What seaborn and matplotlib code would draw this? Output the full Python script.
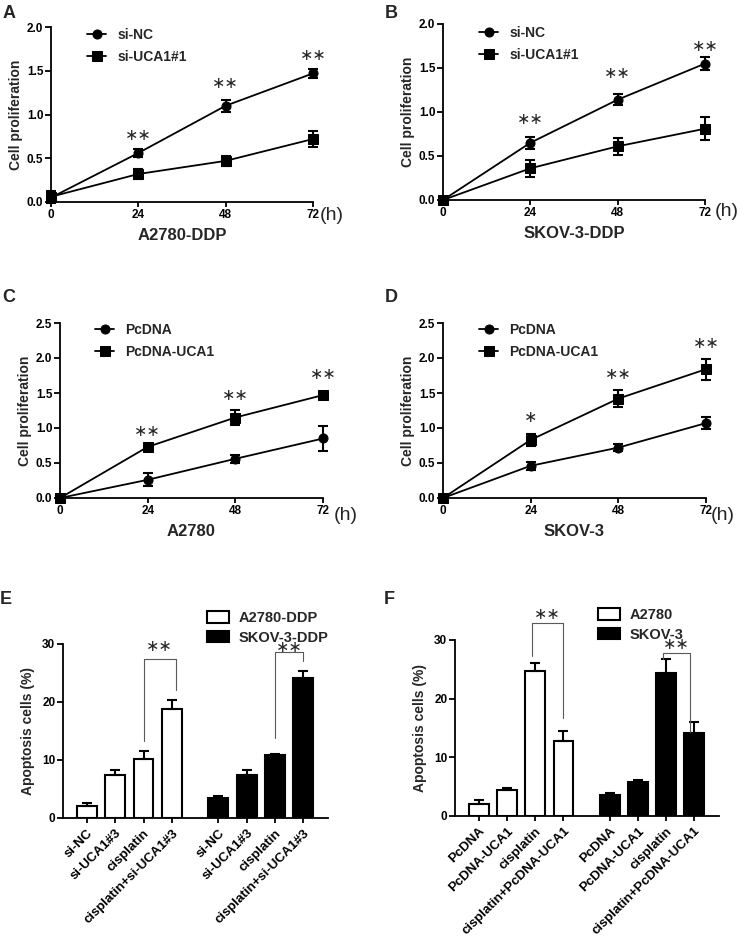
import numpy as np
import pandas as pd
import matplotlib.pyplot as plt
import seaborn as sns

sns.set_style("ticks")
plt.rcParams["font.family"] = ["Liberation Sans", "DejaVu Sans"]
plt.rcParams["font.weight"] = "bold"
plt.rcParams["axes.labelweight"] = "bold"
plt.rcParams["axes.linewidth"] = 1.3
plt.rcParams["xtick.major.width"] = 1.3
plt.rcParams["ytick.major.width"] = 1.3
plt.rcParams["xtick.major.size"] = 3.5
plt.rcParams["ytick.major.size"] = 4
plt.rcParams["xtick.color"] = "black"
plt.rcParams["ytick.color"] = "black"
plt.rcParams["axes.edgecolor"] = "black"

# ---- data: proliferation curves ----
hours = [0, 24, 48, 72]

a_names = ["si-NC", "si-UCA1#1"]
a_nc = [0.05, 0.56, 1.10, 1.47]
a_nc_err = [0.05, 0.05, 0.07, 0.05]
a_si = [0.06, 0.32, 0.47, 0.72]
a_si_err = [0.07, 0.06, 0.06, 0.09]
a_stars = [0.76, 1.35, 1.68]

b_nc = [0.0, 0.65, 1.14, 1.55]
b_nc_err = [0.01, 0.065, 0.06, 0.07]
b_si = [0.0, 0.36, 0.61, 0.81]
b_si_err = [0.01, 0.10, 0.10, 0.13]
b_stars = [0.92, 1.44, 1.74]

c_names = ["PcDNA", "PcDNA-UCA1"]
c_pc = [0.0, 0.26, 0.56, 0.85]
c_pc_err = [0.01, 0.09, 0.06, 0.18]
c_uca = [0.0, 0.73, 1.15, 1.47]
c_uca_err = [0.01, 0.02, 0.10, 0.05]
c_stars = [0.95, 1.46, 1.77]

d_pc = [0.0, 0.46, 0.72, 1.07]
d_pc_err = [0.01, 0.06, 0.05, 0.09]
d_uca = [0.0, 0.83, 1.42, 1.84]
d_uca_err = [0.01, 0.09, 0.12, 0.15]
d_stars = [1.15, 1.76, 2.21]

# ---- data: apoptosis bars ----
e_labels = ["si-NC", "si-UCA1#3", "cisplatin", "cisplatin+si-UCA1#3"]
e_lines = ["A2780-DDP", "SKOV-3-DDP"]
e_a = [2.0, 7.5, 10.1, 18.8]
e_a_err = [0.6, 0.8, 1.4, 1.6]
e_s = [3.5, 7.5, 10.8, 24.1]
e_s_err = [0.3, 0.8, 0.3, 1.2]

f_labels = ["PcDNA", "PcDNA-UCA1", "cisplatin", "cisplatin+PcDNA-UCA1"]
f_lines = ["A2780", "SKOV-3"]
f_a = [2.1, 4.5, 24.7, 12.8]
f_a_err = [0.55, 0.35, 1.4, 1.7]
f_s = [3.6, 5.8, 24.4, 14.1]
f_s_err = [0.3, 0.3, 2.3, 2.0]

W, H = 744, 941
fig = plt.figure(figsize=(W / 100, H / 100), dpi=100)

STAR_FONT = ["DejaVu Sans"]


def box(l, t, r, b):
    return [l / W, 1 - b / H, (r - l) / W, (b - t) / H]


def line_panel(rect, names, means, errs, stars, star_txt, ymax, xlabel, leg_xy, h_xy):
    ax = fig.add_axes(box(*rect))
    df = pd.DataFrame({
        "time": hours * 2,
        "value": means[0] + means[1],
        "group": [names[0]] * 4 + [names[1]] * 4,
    })
    sns.lineplot(data=df, x="time", y="value", style="group", markers=["o", "s"],
                 dashes=False, color="black", linewidth=1.3, markersize=6.5,
                 markeredgecolor="black", clip_on=False, ax=ax)
    for m, e in zip(means, errs):
        ax.errorbar(hours, m, yerr=e, fmt="none", ecolor="black", elinewidth=1.5,
                    capsize=3.5, capthick=1.5, clip_on=False)
    for h, y, s in zip(hours[1:], stars, star_txt):
        ax.text(h, y, s, ha="center", va="center", fontsize=11.5,
                family=STAR_FONT, fontweight="normal")
    ax.set_xlim(0, 72)
    ax.set_ylim(0, ymax)
    ax.set_xticks(hours)
    ax.set_yticks(np.arange(0, ymax + 0.01, 0.5))
    ax.tick_params(labelsize=8.5, pad=1.5)
    ax.set_ylabel("Cell proliferation", fontsize=10, labelpad=3)
    ax.set_xlabel(xlabel, fontsize=12, labelpad=5)
    sns.despine(ax=ax)
    sns.move_legend(ax, "upper left", bbox_to_anchor=(leg_xy[0] / W, 1 - leg_xy[1] / H),
                    bbox_transform=fig.transFigure, title=None, frameon=False,
                    fontsize=10, borderpad=0, borderaxespad=0, handlelength=1.4,
                    handletextpad=0.8, labelspacing=0.6)
    fig.text(h_xy[0] / W, 1 - h_xy[1] / H, "(h)", fontsize=14, fontweight="normal",
             ha="center", va="center")
    return ax


def bar_panel(rect, labels, lines, v1, e1, v2, e2, brackets, leg_xy):
    ax = fig.add_axes(box(*rect))
    pos = [0, 1, 2, 3, 4.65, 5.65, 6.65, 7.65]
    df = pd.DataFrame({
        "pos": pos,
        "value": v1 + v2,
        "line": [lines[0]] * 4 + [lines[1]] * 4,
    })
    sns.barplot(data=df, x="pos", y="value", hue="line", native_scale=True, dodge=False,
                palette=["white", "black"], saturation=1, edgecolor="black",
                linewidth=1.5, width=0.7, errorbar=None, ax=ax)
    ax.errorbar(pos, v1 + v2, yerr=[np.zeros(8), e1 + e2], fmt="none", ecolor="black",
                elinewidth=1.5, capsize=3.5, capthick=1.5)
    for x1, x2, y1, top, y2, sy in brackets:
        ax.plot([x1, x1, x2, x2], [y1, top, top, y2], color="0.35", lw=0.8, clip_on=False)
        ax.text((x1 + x2) / 2, sy, "∗∗", ha="center", va="center", fontsize=11.5,
                family=STAR_FONT, fontweight="normal", clip_on=False)
    ax.set_xlim(-0.85, 8.53)
    ax.set_ylim(0, 30)
    ax.set_yticks([0, 10, 20, 30])
    ax.set_xticks(pos)
    ax.set_xticklabels(labels * 2, rotation=45, ha="right", rotation_mode="anchor",
                       fontsize=9.5)
    ax.tick_params(axis="y", labelsize=8.5, pad=1.5)
    ax.tick_params(axis="x", pad=3)
    ax.set_xlabel("")
    ax.set_ylabel("Apoptosis cells (%)", fontsize=10, labelpad=5)
    sns.despine(ax=ax)
    sns.move_legend(ax, "upper left", bbox_to_anchor=(leg_xy[0] / W, 1 - leg_xy[1] / H),
                    bbox_transform=fig.transFigure, title=None, frameon=False,
                    fontsize=10.5, borderpad=0, borderaxespad=0, handlelength=1.5,
                    handleheight=0.8, handletextpad=0.65, labelspacing=0.4)
    return ax


two = ["∗∗", "∗∗", "∗∗"]
line_panel((51, 27, 313, 202), a_names, [a_nc, a_si], [a_nc_err, a_si_err], a_stars, two,
           2.0, "A2780-DDP", (87, 28), (332, 216))
line_panel((443, 24, 705, 200), a_names, [b_nc, b_si], [b_nc_err, b_si_err], b_stars, two,
           2.0, "SKOV-3-DDP", (479, 26), (727, 211))
line_panel((60, 323, 323, 498), c_names, [c_pc, c_uca], [c_pc_err, c_uca_err], c_stars, two,
           2.5, "A2780", (95, 323), (346, 516))
line_panel((443, 323, 706, 498), c_names, [d_pc, d_uca], [d_pc_err, d_uca_err], d_stars,
           ["∗", "∗∗", "∗∗"], 2.5, "SKOV-3", (479, 323), (723, 516))

bar_panel((63, 644, 328, 818), e_labels, e_lines, e_a, e_a_err, e_s, e_s_err,
          [(2.0, 3.15, 13.3, 27.4, 22.1, 29.5), (6.65, 7.65, 13.8, 28.6, 27.0, 29.4)],
          (207, 611))
bar_panel((455, 640, 719, 816), f_labels, f_lines, f_a, f_a_err, f_s, f_s_err,
          [(1.88, 3.0, 27.2, 32.9, 16.7, 34.3), (6.55, 7.5, 26.8, 27.7, 14.4, 29.3)],
          (598, 608))

for lab, x, y in [("A", 9, 13), ("B", 391, 13), ("C", 9, 297), ("D", 391, 297),
                  ("E", 6, 600), ("F", 389, 600)]:
    fig.text(x / W, 1 - y / H, lab, fontsize=13, fontweight="bold", ha="center", va="center")

fig.savefig("out.png", dpi=100)
